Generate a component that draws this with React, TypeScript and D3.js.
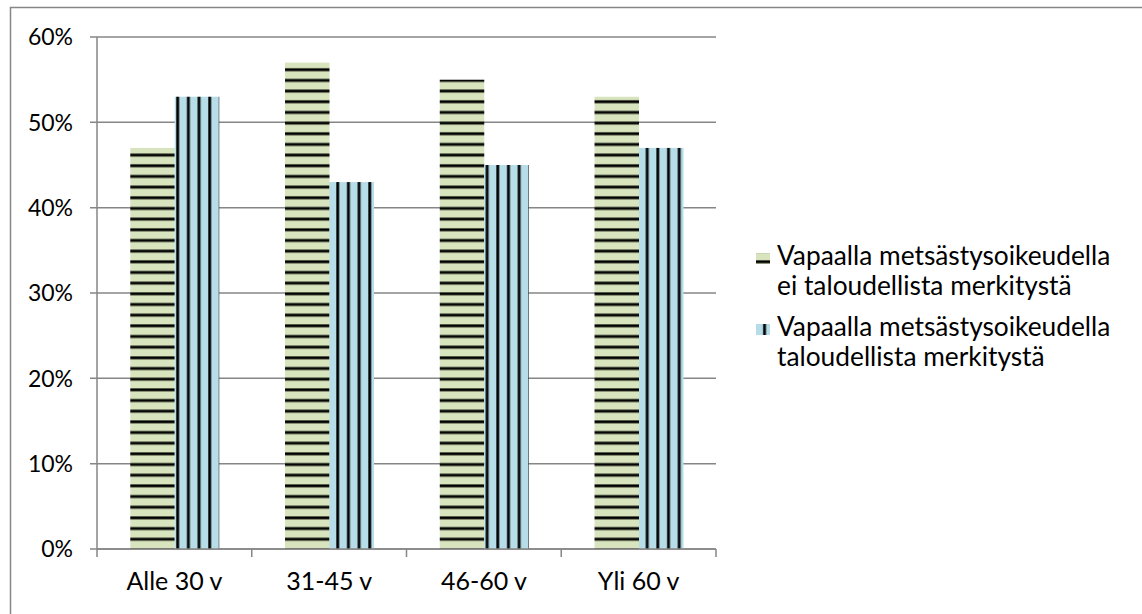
import * as d3 from "d3";

const categories = ["Alle 30 v", "31-45 v", "46-60 v", "Yli 60 v"];
const seriesNames = [
  ["Vapaalla metsästysoikeudella", "ei taloudellista merkitystä"],
  ["Vapaalla metsästysoikeudella", "taloudellista merkitystä"],
];
const noValue = [0.47, 0.57, 0.55, 0.53];
const yesValue = [0.53, 0.43, 0.45, 0.47];
const yTicks = [0, 0.1, 0.2, 0.3, 0.4, 0.5, 0.6];

const W = 1142, H = 614;
const m = { left: 97, right: 716, top: 37, bottom: 549 };
const FONT = "Lato, 'Liberation Sans', sans-serif";
const GRID = "#868686";

export default function App() {
  const x0 = d3.scaleBand<string>().domain(categories).range([m.left, m.right]).padding(0);
  const bw = x0.bandwidth();
  const x1 = d3.scaleBand<number>().domain([0, 1]).range([bw * 0.215, bw * 0.79]);
  const y = d3.scaleLinear().domain([0, 0.6]).range([m.bottom, m.top]);
  const fmt = d3.format(".0%");
  const series = [noValue, yesValue];
  const fills = ["url(#horz)", "url(#vert)"];
  const legendY = [[265, 295], [336, 366]];

  return (
    <svg width={W} height={H} style={{ position: "absolute", left: 0, top: 0 }} fontFamily={FONT}>
      <defs>
        <pattern id="horz" patternUnits="userSpaceOnUse" width={10} height={10.67}>
          <rect width={10} height={10.67} fill="#d7e4bd" />
          <rect y={4} width={10} height={3.4} fill="#4a4f40" />
          <rect y={4.8} width={10} height={1.8} fill="#000" />
        </pattern>
        <pattern id="vert" patternUnits="userSpaceOnUse" width={10.67} height={10} x={176}>
          <rect width={10.67} height={10} fill="#b7dde8" />
          <rect x={0} width={3.4} height={10} fill="#3f5054" />
          <rect x={0.8} width={1.8} height={10} fill="#000" />
        </pattern>
      </defs>
      <rect x={0} y={0} width={W} height={H} fill="#fff" />
      <rect x={10.5} y={7.5} width={W + 10} height={H + 10} fill="none" stroke={GRID} strokeWidth={1.5} />

      {yTicks.map((t) => (
        <g key={t}>
          <line x1={m.left - 7} x2={m.right} y1={y(t)} y2={y(t)} stroke={GRID} strokeWidth={1.5} />
          <text x={73} y={y(t)} dy="0.36em" textAnchor="end" fontSize={23} fill="#000">
            {fmt(t)}
          </text>
        </g>
      ))}
      <line x1={m.left} x2={m.left} y1={m.top} y2={m.bottom} stroke={GRID} strokeWidth={1.5} />

      {categories.map((c, i) => (
        <g key={c}>
          {series.map((vals, s) => (
            <rect
              key={s}
              x={(x0(c) ?? 0) + (x1(s) ?? 0)}
              y={y(vals[i])}
              width={x1.bandwidth()}
              height={y(0) - y(vals[i])}
              fill={fills[s]}
            />
          ))}
          <text x={(x0(c) ?? 0) + bw / 2} y={590} textAnchor="middle" fontSize={25} fill="#000">
            {c}
          </text>
        </g>
      ))}

      <line x1={m.left} x2={m.right} y1={m.bottom} y2={m.bottom} stroke={GRID} strokeWidth={1.5} />
      {[...categories.map((c) => x0(c) ?? 0), m.right].map((tx) => (
        <line key={tx} x1={tx} x2={tx} y1={m.bottom} y2={m.bottom + 8} stroke={GRID} strokeWidth={1.5} />
      ))}

      {seriesNames.map((lines, s) => (
        <g key={s}>
          <rect x={756} y={legendY[s][0] - 12} width={14} height={11} fill={fills[s]} />
          {lines.map((ln, k) => (
            <text key={k} x={777} y={legendY[s][k]} fontSize={26.3} fill="#000">
              {ln}
            </text>
          ))}
        </g>
      ))}
    </svg>
  );
}
